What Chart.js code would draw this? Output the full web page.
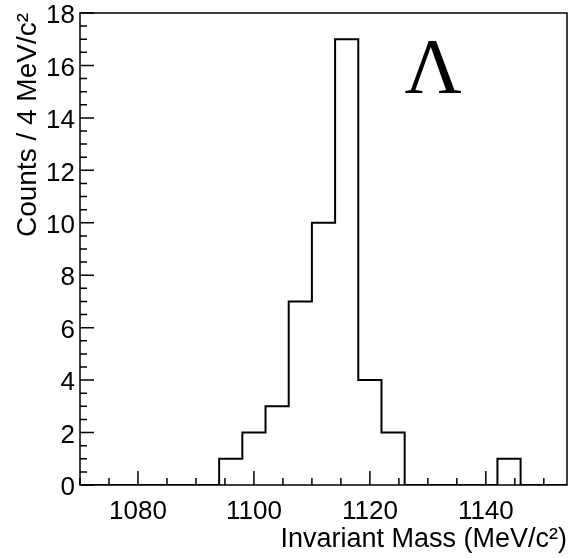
<!DOCTYPE html>
<html>
<head>
  <title>Lambda Invariant Mass</title>
  <script src="https://cdn.jsdelivr.net/npm/chart.js@4.4.1/dist/chart.umd.min.js"></script>
  <style>
    body { margin: 0; background: #fff; }
  </style>
</head>
<body>
  <canvas id="histo" width="571" height="558"></canvas>

  <script>
    // histogram: 4 MeV bins from 1070 to 1154
    var binLowEdges = [1070, 1074, 1078, 1082, 1086, 1090, 1094, 1098, 1102, 1106, 1110,
                       1114, 1118, 1122, 1126, 1130, 1134, 1138, 1142, 1146, 1150];
    var binWidth = 4;
    var counts = [0, 0, 0, 0, 0, 0, 1, 2, 3, 7, 10, 17, 4, 2, 0, 0, 0, 0, 1, 0, 0];

    var xTickLabels = [1080, 1100, 1120, 1140];
    var yTickLabels = [0, 2, 4, 6, 8, 10, 12, 14, 16, 18];

    var xTitle = "Invariant Mass (MeV/c\u00B2)";
    var yTitle = "Counts / 4 MeV/c\u00B2";
    var particleLabel = "\u039B";

    var FONT = '"Liberation Sans", Arial, sans-serif';

    // step points: each low edge with its count, then the last upper edge
    var points = binLowEdges.map(function(x, i) { return { x: x, y: counts[i] }; });
    points.push({ x: binLowEdges[binLowEdges.length - 1] + binWidth, y: 0 });

    // ROOT-like frame, inward major/minor ticks and the big Lambda
    var rootStyle = {
      id: "rootStyle",
      afterDraw: function(chart) {
        var ctx = chart.ctx;
        var a = chart.chartArea;
        var xs = chart.scales.x;
        var ys = chart.scales.y;
        ctx.save();
        ctx.strokeStyle = "#000";
        ctx.lineWidth = 1.5;
        ctx.strokeRect(a.left, a.top, a.right - a.left, a.bottom - a.top);

        ctx.beginPath();
        var v, px, major;
        for (v = xs.min; v <= xs.max; v += 5) {
          px = xs.getPixelForValue(v);
          major = (v % 20 === 0);
          ctx.moveTo(px, a.bottom);
          ctx.lineTo(px, a.bottom - (major ? 14 : 7));
        }
        for (v = ys.min; v <= ys.max + 0.001; v += 0.5) {
          px = ys.getPixelForValue(v);
          major = (Math.abs(v % 2) < 0.001);
          ctx.moveTo(a.left, px);
          ctx.lineTo(a.left + (major ? 14 : 7), px);
        }
        ctx.stroke();

        ctx.fillStyle = "#000";
        ctx.font = '79px "Liberation Serif", "Times New Roman", serif';
        ctx.textAlign = "center";
        ctx.textBaseline = "alphabetic";
        ctx.fillText(particleLabel, xs.getPixelForValue(1130.9), ys.getPixelForValue(15.0));
        ctx.restore();
      }
    };

    var ctx = document.getElementById("histo").getContext("2d");
    new Chart(ctx, {
      type: "line",
      data: {
        datasets: [{
          data: points,
          stepped: true,
          borderColor: "#000",
          borderWidth: 2,
          pointRadius: 0,
          fill: false
        }]
      },
      options: {
        responsive: false,
        animation: false,
        layout: { padding: { top: 13, right: 4, left: 0, bottom: 0 } },
        plugins: {
          legend: { display: false },
          tooltip: { enabled: false }
        },
        scales: {
          x: {
            type: "linear",
            min: 1070,
            max: 1154,
            grid: { display: false, drawTicks: false },
            border: { display: false },
            afterBuildTicks: function(scale) {
              scale.ticks = xTickLabels.map(function(v) { return { value: v }; });
            },
            afterFit: function(scale) {
              scale.height = 73;
              scale.paddingLeft = 0;
              scale.paddingRight = 0;
            },
            ticks: {
              color: "#000",
              padding: 14,
              maxRotation: 0,
              font: { family: FONT, size: 26, lineHeight: 1 },
              callback: function(value) { return String(value); }
            },
            title: {
              display: true,
              text: xTitle,
              align: "end",
              color: "#000",
              padding: { top: 0, bottom: 2 },
              font: { family: FONT, size: 27 }
            }
          },
          y: {
            type: "linear",
            min: 0,
            max: 18,
            grid: { display: false, drawTicks: false },
            border: { display: false },
            afterBuildTicks: function(scale) {
              scale.ticks = yTickLabels.map(function(v) { return { value: v }; });
            },
            afterFit: function(scale) {
              scale.width = 80;
              scale.paddingTop = 0;
              scale.paddingBottom = 0;
            },
            ticks: {
              color: "#000",
              padding: 5,
              labelOffset: 3,
              font: { family: FONT, size: 26, lineHeight: 1 }
            },
            title: {
              display: true,
              text: yTitle,
              align: "end",
              color: "#000",
              padding: { top: 11, bottom: 0 },
              font: { family: FONT, size: 28 }
            }
          }
        }
      },
      plugins: [rootStyle]
    });
  </script>
</body>
</html>
